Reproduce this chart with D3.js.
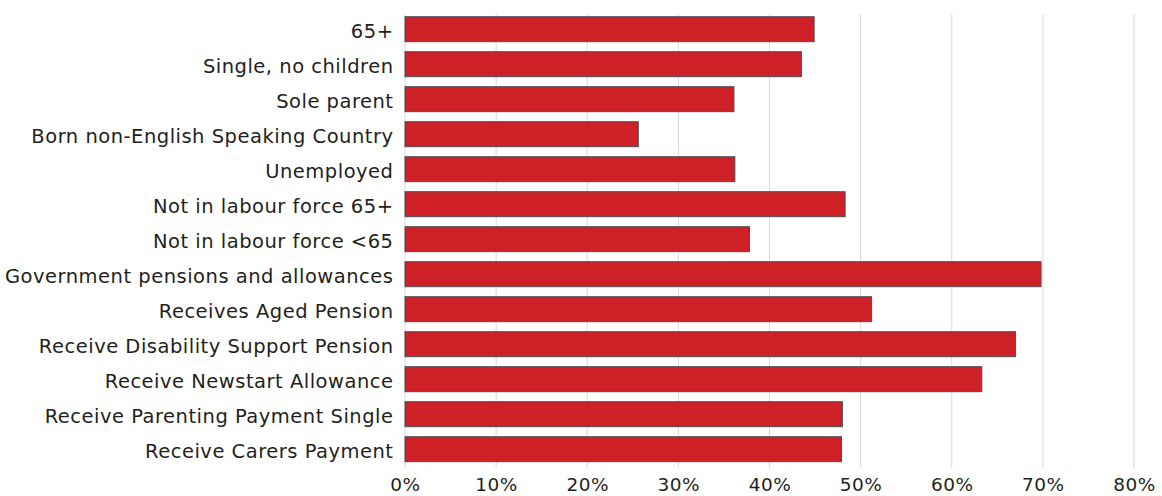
<!DOCTYPE html>
<html><head><meta charset="utf-8">
<script src="https://cdn.jsdelivr.net/npm/d3@7"></script>
<style>
html,body{margin:0;padding:0;background:#fff;}
svg text{font-family:"DejaVu Sans", "Open Sans", sans-serif;fill:#231f20;}
</style></head>
<body><svg id="chart" width="1162" height="496"></svg>
<script>
const categories = ["65+","Single, no children","Sole parent","Born non-English Speaking Country","Unemployed","Not in labour force 65+","Not in labour force <65","Government pensions and allowances","Receives Aged Pension","Receive Disability Support Pension","Receive Newstart Allowance","Receive Parenting Payment Single","Receive Carers Payment"];
const values = [44.9,43.5,36.1,25.6,36.2,48.3,37.8,69.8,51.2,67.0,63.3,48.0,47.9];
const tickValues = [0,10,20,30,40,50,60,70,80];

const svg = d3.select("#chart");
const x = d3.scaleLinear().domain([0,80]).range([405,1134]);
const y = d3.scaleBand().domain(categories).range([11.7,466.7]).paddingInner(0.286).paddingOuter(0.143);

svg.append("g").selectAll("line").data(tickValues).join("line")
  .attr("x1",d=>x(d)).attr("x2",d=>x(d)).attr("y1",14).attr("y2",468)
  .attr("stroke","#d9d9d9").attr("stroke-width",1);

svg.append("g").selectAll("rect").data(values).join("rect")
  .attr("x",x(0)).attr("y",(d,i)=>y(categories[i]))
  .attr("width",d=>x(d)-x(0)).attr("height",y.bandwidth())
  .attr("fill","#cd2027").attr("stroke","#4d4f57").attr("stroke-width",1);

svg.append("g").selectAll("text").data(categories).join("text")
  .attr("x",393.5).attr("y",d=>y(d)+y.bandwidth()/2).attr("dy","0.43em")
  .attr("text-anchor","end").attr("font-size",19.5).style("letter-spacing","0.5px").text(d=>d);

const ax = svg.append("g").attr("transform","translate(0,468)")
  .call(d3.axisBottom(x).tickValues(tickValues).tickFormat(d=>d+"%").tickSize(0).tickPadding(10));
ax.select(".domain").remove();
ax.selectAll("text").attr("font-size",18.5).style("font-family","'DejaVu Sans', sans-serif").style("letter-spacing","0.5px").attr("fill","#231f20");
</script></body></html>
